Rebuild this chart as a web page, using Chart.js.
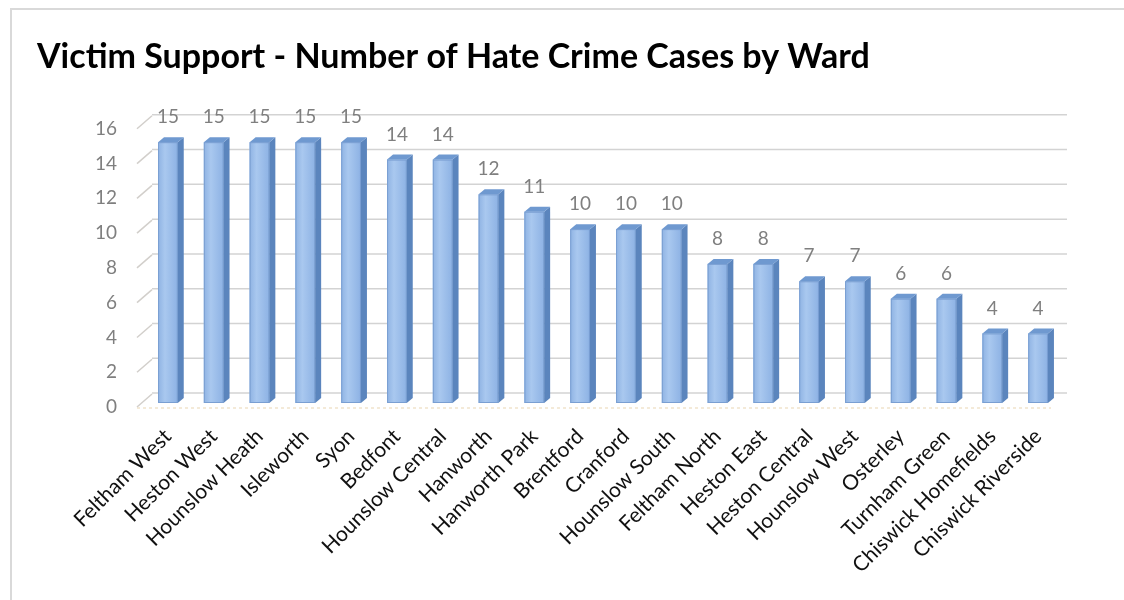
<!DOCTYPE html>
<html>
<head>
<meta charset="utf-8">
<script src="https://cdn.jsdelivr.net/npm/chart.js@4.4.1/dist/chart.umd.min.js"></script>
<style>
  html, body { margin: 0; padding: 0; background: #ffffff; }
  #wrap { position: relative; width: 1124px; height: 600px; }
  canvas { display: block; }
</style>
</head>
<body>
<div id="wrap"><canvas id="c" width="1124" height="600"></canvas></div>
<script>
const chartTitle = 'Victim Support - Number of Hate Crime Cases by Ward';
const wards = ['Feltham West', 'Heston West', 'Hounslow Heath', 'Isleworth', 'Syon', 'Bedfont',
  'Hounslow Central', 'Hanworth', 'Hanworth Park', 'Brentford', 'Cranford', 'Hounslow South',
  'Feltham North', 'Heston East', 'Heston Central', 'Hounslow West', 'Osterley', 'Turnham Green',
  'Chiswick Homefields', 'Chiswick Riverside'];
const cases = [15, 15, 15, 15, 15, 14, 14, 12, 11, 10, 10, 10, 8, 8, 7, 7, 6, 6, 4, 4];
const yTicks = [0, 2, 4, 6, 8, 10, 12, 14, 16];

const FONT = 'Lato, "Open Sans", sans-serif';

const framePlugin = {
  id: 'frame',
  beforeDraw(chart) {
    const ctx = chart.ctx;
    ctx.save();
    ctx.fillStyle = '#ffffff';
    ctx.fillRect(0, 0, chart.width, chart.height);
    ctx.strokeStyle = '#d9d9d9';
    ctx.lineWidth = 2;
    ctx.strokeRect(11, 9, chart.width + 40, chart.height + 40);
    ctx.restore();
  }
};

const wallPlugin = {
  id: 'wall',
  beforeDatasetsDraw(chart) {
    const ctx = chart.ctx;
    const y = chart.scales.y;
    const a = chart.chartArea;
    ctx.save();
    const y0 = y.getPixelForValue(0);
    ctx.strokeStyle = 'rgba(240,225,200,0.7)';
    ctx.lineWidth = 2;
    ctx.setLineDash([3, 3]);
    ctx.beginPath();
    ctx.moveTo(a.left - 8, y0 + 5);
    ctx.lineTo(a.right - 10, y0 + 5);
    ctx.stroke();
    ctx.setLineDash([]);
    yTicks.forEach(v => {
      const p = y.getPixelForValue(v);
      ctx.strokeStyle = '#d2cfcb';
      ctx.lineWidth = 1.5;
      ctx.beginPath();
      ctx.moveTo(a.left - 8, p + 4);
      ctx.lineTo(a.left + 7, p - 9);
      ctx.stroke();
      ctx.strokeStyle = '#d3d3d3';
      ctx.beginPath();
      ctx.moveTo(a.left + 7, p - 10);
      ctx.lineTo(a.right + 6, p - 10);
      ctx.stroke();
    });
    ctx.restore();
  }
};

const bar3dPlugin = {
  id: 'bar3d',
  afterDatasetsDraw(chart) {
    const ctx = chart.ctx;
    const meta = chart.getDatasetMeta(0);
    const dx = 6, dy = 5;
    ctx.save();
    meta.data.forEach((bar, i) => {
      const p = bar.getProps(['x', 'y', 'base', 'width'], true);
      const l = p.x - p.width / 2, r = p.x + p.width / 2;
      const top = p.y, bot = p.base;
      const g = ctx.createLinearGradient(l, 0, r, 0);
      g.addColorStop(0, '#8fb3e3');
      g.addColorStop(0.35, '#a9c8ef');
      g.addColorStop(1, '#8db2e4');
      ctx.fillStyle = g;
      ctx.fillRect(l, top, p.width, bot - top);
      ctx.strokeStyle = '#7a9fd2';
      ctx.lineWidth = 1;
      ctx.strokeRect(l + 0.5, top + 0.5, p.width - 1, bot - top - 1);
      ctx.fillStyle = '#5b85bd';
      ctx.beginPath();
      ctx.moveTo(r, top);
      ctx.lineTo(r + dx, top - dy);
      ctx.lineTo(r + dx, bot - dy);
      ctx.lineTo(r, bot);
      ctx.closePath();
      ctx.fill();
      ctx.fillStyle = '#6f99d0';
      ctx.beginPath();
      ctx.moveTo(l, top);
      ctx.lineTo(r, top);
      ctx.lineTo(r + dx, top - dy);
      ctx.lineTo(l + dx, top - dy);
      ctx.closePath();
      ctx.fill();
      ctx.fillStyle = '#7f7f7f';
      ctx.font = '19px ' + FONT;
      ctx.textAlign = 'center';
      ctx.textBaseline = 'middle';
      ctx.fillText(String(cases[i]), p.x, top - 25);
    });
    ctx.restore();
  }
};

new Chart(document.getElementById('c'), {
  type: 'bar',
  data: {
    labels: wards,
    datasets: [{
      label: 'Cases',
      data: cases,
      backgroundColor: '#9dbfe9',
      borderWidth: 0,
      barPercentage: 0.43,
      categoryPercentage: 1.0
    }]
  },
  options: {
    responsive: false,
    animation: false,
    devicePixelRatio: 1,
    layout: { padding: { left: 37, right: 63, top: 0, bottom: 0 } },
    plugins: {
      legend: { display: false },
      tooltip: { enabled: false },
      title: {
        display: true,
        text: chartTitle,
        align: 'start',
        color: '#000000',
        font: { family: FONT, size: 34, weight: 'bold', lineHeight: 1.2 },
        padding: { top: 37, bottom: 47 }
      }
    },
    scales: {
      x: {
        grid: { display: false, drawTicks: false },
        border: { display: false },
        ticks: {
          autoSkip: false,
          minRotation: 45,
          maxRotation: 45,
          padding: 21,
          color: '#111111',
          font: { family: FONT, size: 21 }
        },
        afterFit(scale) { scale.height = 197; }
      },
      y: {
        min: 0,
        max: 16,
        grid: { display: false, drawTicks: false },
        border: { display: false },
        ticks: {
          stepSize: 2,
          padding: 28,
          labelOffset: 4,
          color: '#7f7f7f',
          font: { family: FONT, size: 19 }
        },
        afterFit(scale) { scale.width = 108; }
      }
    }
  },
  plugins: [framePlugin, wallPlugin, bar3dPlugin]
});
</script>
</body>
</html>
